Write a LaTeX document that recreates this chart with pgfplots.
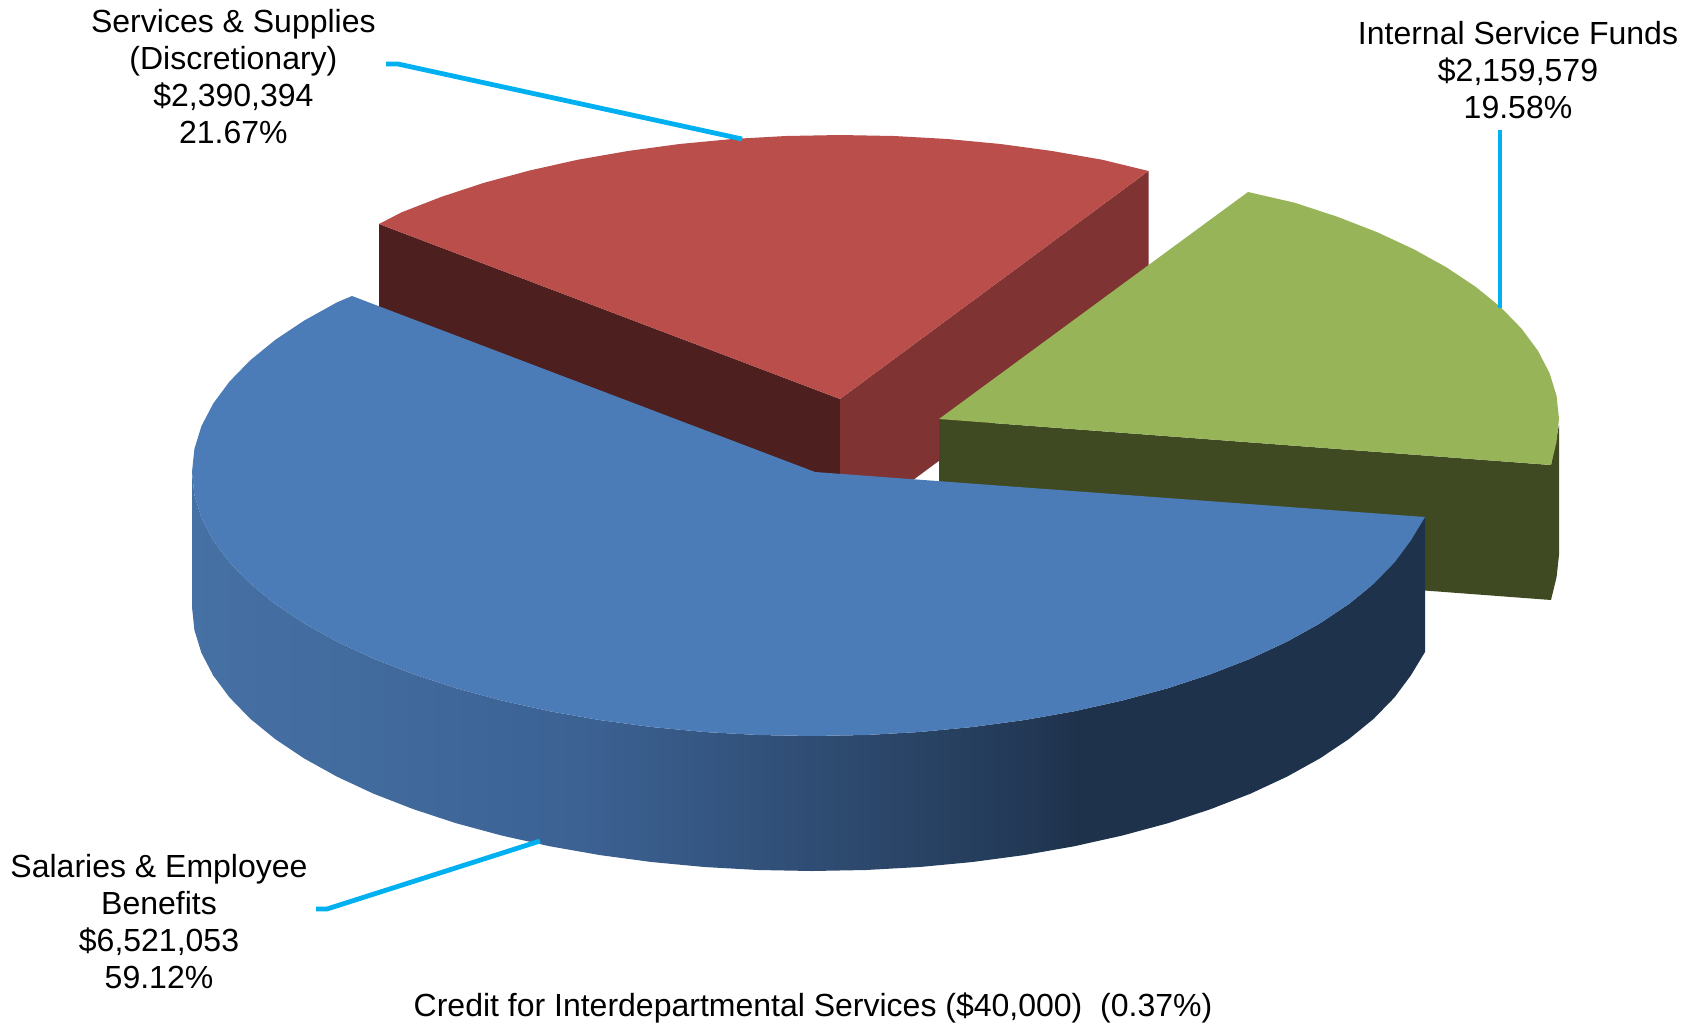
\documentclass[border=0pt]{standalone}
\usepackage{pgfplots}
\pgfplotsset{compat=1.18}
\usepackage{fontspec}
\setmainfont{Liberation Sans}
\definecolor{bluetop}{RGB}{75,124,183}
\definecolor{redtop}{RGB}{185,78,75}
\definecolor{redleft}{RGB}{77,31,30}
\definecolor{redright}{RGB}{127,51,50}
\definecolor{greentop}{RGB}{151,181,88}
\definecolor{greenside}{RGB}{63,74,34}
\definecolor{leader}{RGB}{0,176,240}
\pgfdeclarehorizontalshading{blueside}{100bp}{rgb(0bp)=(0.275,0.443,0.647); rgb(25bp)=(0.275,0.443,0.647); rgb(40.7bp)=(0.235,0.384,0.580); rgb(52.25bp)=(0.173,0.282,0.424); rgb(57.8bp)=(0.141,0.235,0.353); rgb(61bp)=(0.122,0.196,0.298); rgb(100bp)=(0.122,0.196,0.298)}
\tikzset{lab/.style={align=center, inner sep=0pt, text=black, font=\fontsize{16}{18.5}\selectfont}}
\begin{document}
\begin{tikzpicture}
\useasboundingbox (0,0) rectangle (847pt,514.5pt);
\begin{axis}[
  at={(0,0)}, anchor=south west,
  scale only axis, width=847pt, height=514.5pt,
  xmin=0, xmax=1694, ymin=0, ymax=1029, y dir=reverse,
  hide axis, clip=false
]
% red slice: side faces
\addplot[fill=redleft, draw=none] coordinates {(379,224)(840,399)(840,534)(379,359)} --cycle;
\addplot[fill=redright, draw=none] coordinates {(840,399)(1148.5,171)(1148.5,306)(840,534)} --cycle;
% red slice: top face
\addplot[fill=redtop, draw=none] coordinates {(840,399)(379,224)(401.6,212.3)(441.5,196.8)(484.4,182.7)(530,170.4)(578,159.7)(628,151)(679.5,144)(732.4,139)(786,136)(840,135)(894,136)(947.6,139)(1000.5,144)(1052,151)(1102,159.7)(1148.5,171)} --cycle;
% green slice: side face
\addplot[fill=greenside, draw=none] coordinates {(939,419)(1551,465)(1559,425)(1559,555)(1556.6,577)(1551,600)(939,554)} --cycle;
% green slice: top face
\addplot[fill=greentop, draw=none] coordinates {(939,419)(1248,192)(1294.6,202.7)(1337.5,216.8)(1377.4,232.3)(1413.9,249.3)(1446.9,267.6)(1475.9,287)(1500.9,307.4)(1521.6,328.7)(1537.9,350.7)(1549.6,373.2)(1556.6,396)(1559,419)(1556.5,442)(1551,465)} --cycle;
% blue slice: side face
\addplot[shading=blueside, draw=none] coordinates {(1425,517)(1410.9,540.3)(1394.6,562.3)(1373.9,583.6)(1348.9,604)(1319.9,623.4)(1286.9,641.7)(1250.4,658.7)(1210.5,674.2)(1167.6,688.3)(1122,700.6)(1074,711.3)(1024,720.1)(972.5,727)(919.6,732)(866,735)(812,736)(758,735)(704.4,732)(651.5,727)(600,720.1)(550,711.3)(502,700.6)(456.4,688.3)(413.5,674.2)(373.6,658.7)(337.1,641.7)(304.1,623.4)(275.1,604)(250.1,583.6)(229.4,562.3)(213.1,540.3)(201.4,517.8)(194.4,495)(192,472)(192,607)(194.4,630)(201.4,652.8)(213.1,675.3)(229.4,697.3)(250.1,718.6)(275.1,739)(304.1,758.4)(337.1,776.7)(373.6,793.7)(413.5,809.2)(456.4,823.3)(502,835.6)(550,846.3)(600,855.1)(651.5,862)(704.4,867)(758,870)(812,871)(866,870)(919.6,867)(972.5,862)(1024,855.1)(1074,846.3)(1122,835.6)(1167.6,823.3)(1210.5,809.2)(1250.4,793.7)(1286.9,776.7)(1319.9,758.4)(1348.9,739)(1373.9,718.6)(1394.6,697.3)(1410.9,675.3)(1425,652)} --cycle;
% blue slice: top face
\addplot[fill=bluetop, draw=none] coordinates {(815,472)(1425,517)(1410.9,540.3)(1394.6,562.3)(1373.9,583.6)(1348.9,604)(1319.9,623.4)(1286.9,641.7)(1250.4,658.7)(1210.5,674.2)(1167.6,688.3)(1122,700.6)(1074,711.3)(1024,720.1)(972.5,727)(919.6,732)(866,735)(812,736)(758,735)(704.4,732)(651.5,727)(600,720.1)(550,711.3)(502,700.6)(456.4,688.3)(413.5,674.2)(373.6,658.7)(337.1,641.7)(304.1,623.4)(275.1,604)(250.1,583.6)(229.4,562.3)(213.1,540.3)(201.4,517.8)(194.4,495)(192,472)(194.4,449)(201.4,426.2)(213.1,403.7)(229.4,381.7)(250.1,360.4)(275.1,340)(304.1,320.6)(337.1,302.3)(352,296)} --cycle;
% leader lines
\addplot[leader, line width=2.4pt] coordinates {(386,64)(398,64)(742,139)};
\addplot[leader, line width=2.4pt] coordinates {(1500,130)(1500,308)};
\addplot[leader, line width=2.4pt] coordinates {(316,909)(327,909)(540,841)};
% labels
\node[lab] at (axis cs:233.4,76.5) {Services \& Supplies\\(Discretionary)\\\$2,390,394\\21.67\%};
\node[lab] at (axis cs:1518,70.5) {Internal Service Funds\\\$2,159,579\\19.58\%};
\node[lab] at (axis cs:159,922) {Salaries \& Employee\\Benefits\\\$6,521,053\\59.12\%};
\node[lab] at (axis cs:813,1008) {Credit for Interdepartmental Services (\$40,000)\ \ (0.37\%)};
\end{axis}
\end{tikzpicture}
\end{document}
